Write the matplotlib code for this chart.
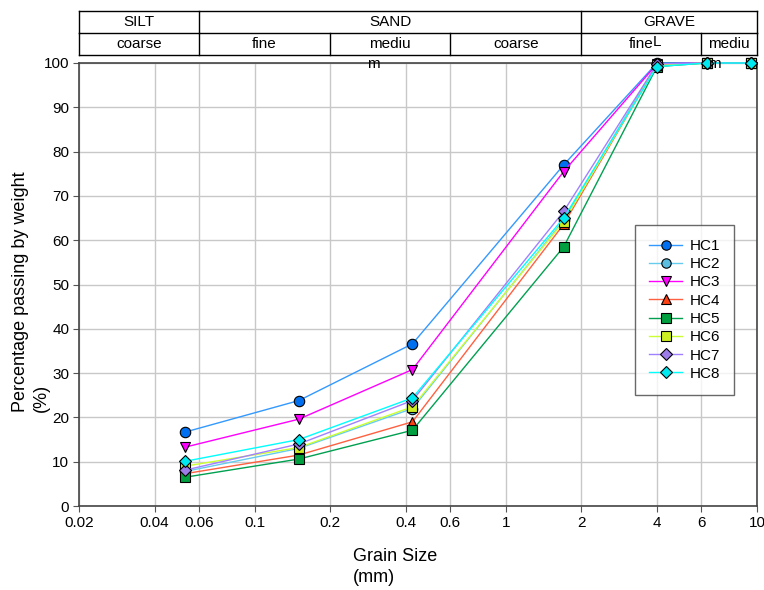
import numpy as np
import matplotlib.pyplot as plt

plt.rcParams['font.family'] = ['Liberation Sans', 'DejaVu Sans']

# tamaños de tamiz (mm) y porcentaje que pasa
sizes = [0.053, 0.15, 0.425, 1.7, 4.0, 6.3, 9.5]
hc1 = [16.7, 23.8, 36.6, 77.0, 100, 100, 100]
hc2 = [7.8, 13.0, 22.0, 64.5, 99.8, 100, 100]
hc3 = [13.3, 19.6, 30.8, 75.5, 99.8, 100, 100]
hc4 = [7.3, 11.5, 19.0, 63.6, 99.6, 100, 100]
hc5 = [6.5, 10.6, 17.1, 58.5, 99.2, 100, 100]
hc6 = [9.0, 13.2, 22.4, 64.2, 99.5, 100, 100]
hc7 = [8.1, 14.0, 23.8, 66.5, 99.8, 100, 100]
hc8 = [10.1, 15.0, 24.4, 65.0, 99.2, 100, 100]

names = ["HC1", "HC2", "HC3", "HC4", "HC5", "HC6", "HC7", "HC8"]
series = [hc1, hc2, hc3, hc4, hc5, hc6, hc7, hc8]

x_ticks = [0.02, 0.04, 0.06, 0.1, 0.2, 0.4, 0.6, 1, 2, 4, 6, 10]
x_labels = ["0.02", "0.04", "0.06", "0.1", "0.2", "0.4", "0.6", "1", "2", "4", "6", "10"]

# clasificacion de suelos (cabecera)
top_edges = [0.02, 0.06, 2, 10]
top_names = ["SILT", "SAND", "GRAVE"]
sub_edges = [0.02, 0.06, 0.2, 0.6, 2, 6, 10]
sub_names = ["coarse", "fine", "mediu", "coarse", "fine", "mediu"]

# estilos por serie
line_colors = ["#3399ff", "#66ccee", "#ff00ff", "#ff6040", "#00a050", "#ccff33", "#a080ff", "#00ffff"]
face_colors = ["#0070f0", "#5bbde0", "#ff00ff", "#ff4010", "#00a040", "#ccee22", "#9c7ce8", "#00e8f0"]
markers = ["o", "o", "v", "^", "s", "s", "D", "D"]

fig = plt.figure(figsize=(7.64, 5.9), dpi=100)
ax = fig.add_axes([79 / 764, 84 / 590, 678 / 764, 443 / 590])

for name, vals, lc, fc, mk in zip(names, series, line_colors, face_colors, markers):
    ms = 6.5 if mk == "D" else 7.5
    ax.plot(sizes, vals, color=lc, lw=1, marker=mk, markersize=ms,
            markerfacecolor=fc, markeredgecolor="black", markeredgewidth=0.8,
            label=name, clip_on=False, zorder=3)

ax.set_xscale("log")
ax.set_xlim(0.02, 10)
ax.set_ylim(0, 100)
ax.set_xticks(x_ticks)
ax.set_xticklabels(x_labels)
ax.xaxis.set_minor_locator(plt.NullLocator())
ax.set_yticks(np.arange(0, 101, 10))
ax.tick_params(axis="both", labelsize=11, length=4, color="#555555", direction="out")
ax.tick_params(axis="x", pad=3)
ax.tick_params(axis="y", pad=3)
ax.grid(True, color="#c8c8c8", lw=1)
ax.set_axisbelow(True)
for s in ax.spines.values():
    s.set_color("#444444")
    s.set_linewidth(1.2)

# cabecera de clasificacion
tr = ax.get_xaxis_transform()
y0, y1, y2 = 1.018, 1.068, 1.117
for yy in (y0, y1, y2):
    ax.plot([0.02, 10], [yy, yy], color="black", lw=1, transform=tr, clip_on=False)
for e in top_edges:
    ax.plot([e, e], [y1, y2], color="black", lw=1, transform=tr, clip_on=False)
for e in sub_edges:
    ax.plot([e, e], [y0, y1], color="black", lw=1, transform=tr, clip_on=False)
for a, b, t in zip(top_edges[:-1], top_edges[1:], top_names):
    ax.text(np.sqrt(a * b), (y1 + y2) / 2, t, transform=tr, ha="center", va="center", fontsize=11)
for a, b, t in zip(sub_edges[:-1], sub_edges[1:], sub_names):
    ax.text(np.sqrt(a * b), (y0 + y1) / 2, t, transform=tr, ha="center", va="center", fontsize=11)
# restos de texto cortado
ax.text(4.0, 1.047, "L", transform=tr, ha="center", va="center", fontsize=11)
ax.text(0.28, 0.997, "m", transform=tr, ha="left", va="center", fontsize=11)
ax.text(6.4, 0.997, "m", transform=tr, ha="left", va="center", fontsize=11)

ax.legend(loc="upper left", bbox_to_anchor=(0.82, 0.634), borderaxespad=0,
          fontsize=11, frameon=True, fancybox=False, edgecolor="#444444",
          handlelength=2.2, handletextpad=0.5, labelspacing=0.28, borderpad=0.9,
          markerscale=0.9)

fig.text(353 / 764, 1 - 567 / 590, "Grain Size\n(mm)", fontsize=13,
         ha="left", va="center", multialignment="left", linespacing=1.3)
fig.text(31 / 764, 1 - 292 / 590, "Percentage passing by weight\n(%)", fontsize=13,
         rotation=90, ha="center", va="center", multialignment="left", linespacing=1.3)

fig.savefig("out.png", dpi=100)
